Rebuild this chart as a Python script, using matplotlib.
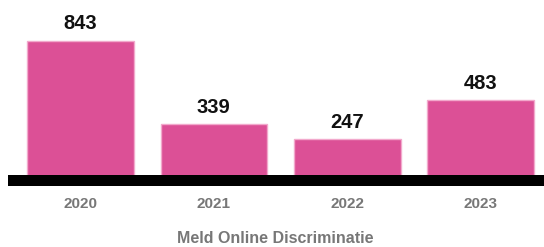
import matplotlib
matplotlib.use("Agg")
import matplotlib.pyplot as plt

# ---- Data ----
years = ["2020", "2021", "2022", "2023"]
meldingen = [843, 339, 247, 483]

BAR_COLOR = "#dc5096"
EDGE_COLOR = "#f2a9cc"

plt.rcParams["font.family"] = ["Liberation Sans", "DejaVu Sans"]

W, H = 544, 247
fig = plt.figure(figsize=(W / 100, H / 100), dpi=100)

# axes: left 8px, top 0, bottom at 186px (under the thick baseline)
ax = fig.add_axes([8 / W, 1 - 186 / H, 536 / W, 186 / H])

px_per_unit = 0.166
half_line = 5.5 / px_per_unit  # baseline is centred on zero

x = list(range(len(years)))
bars = ax.bar(x, meldingen, width=0.8, color=BAR_COLOR, edgecolor=EDGE_COLOR,
              linewidth=1.0, zorder=2)
ax.axhspan(-half_line, half_line, color="black", zorder=3, lw=0)

for b, v in zip(bars, meldingen):
    ax.annotate(f"{v}", (b.get_x() + b.get_width() / 2, v),
                xytext=(0, 8), textcoords="offset points",
                ha="center", va="baseline", fontsize=14.5,
                fontweight="bold", color="#111111")

ax.set_xlim(-0.544, 3.476)
ax.set_ylim(-half_line, 180.5 / px_per_unit)
ax.set_xticks(x)
ax.set_xticklabels(years, fontsize=11, fontweight="bold", color="#777777")
ax.tick_params(axis="x", length=0, pad=8)
ax.set_yticks([])
for s in ax.spines.values():
    s.set_visible(False)

fig.text(275.5 / W, 1 - 238 / H, "Meld Online Discriminatie", ha="center",
         va="center", fontsize=11.5, fontweight="bold", color="#777777")

fig.savefig("out.png", dpi=100, facecolor="white")
